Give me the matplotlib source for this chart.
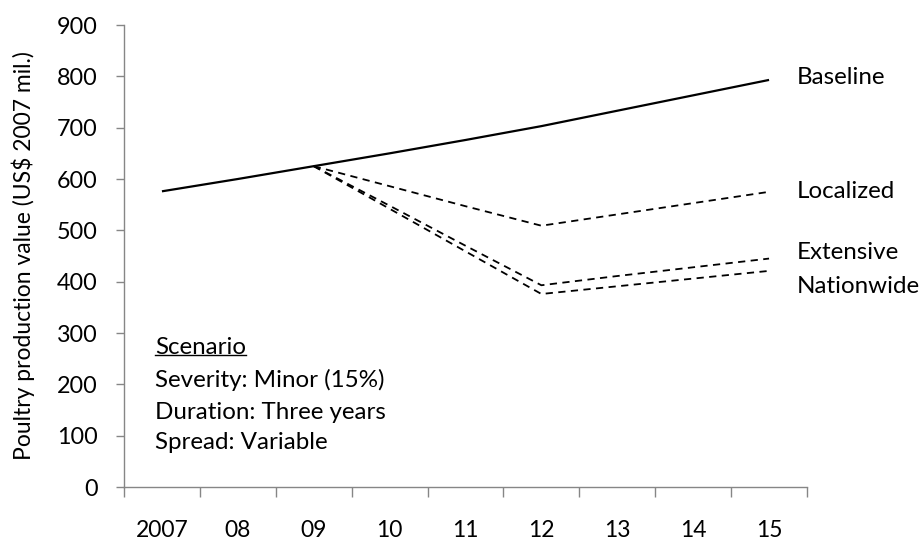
import matplotlib
matplotlib.use("Agg")
import matplotlib.pyplot as plt
from matplotlib.lines import Line2D

plt.rcParams['font.family'] = ['Lato', 'DejaVu Sans']

years = ["2007", "08", "09", "10", "11", "12", "13", "14", "15"]
baseline = [576, 600, 625, 650, 676, 703, 733, 763, 793]
localized = [None, None, 625, 586, 547, 509, 531, 553, 575]
extensive = [None, None, 625, 548, 470, 393, 411, 428, 445]
nationwide = [None, None, 625, 542, 459, 376, 391, 406, 421]
series_names = ["Baseline", "Localized", "Extensive", "Nationwide"]
label_y = [797, 575, 456, 390]
scenario_lines = ["Scenario", "Severity: Minor (15%)", "Duration: Three years", "Spread: Variable"]
scenario_y = [271, 208, 146, 86]

fig = plt.figure(figsize=(9.2, 5.44), dpi=100)
ax = fig.add_axes([124/920, 57/544, (807-124)/920, (487-25)/544])

# choose a font size so the scenario text has the reference width (~230 px)
probe = fig.text(0, 0, scenario_lines[1], fontsize=10)
fig.canvas.draw()
w = probe.get_window_extent(renderer=fig.canvas.get_renderer()).width
probe.remove()
FS = 10 * 230.0 / w

x = list(range(len(years)))
ax.plot(x, baseline, color='black', lw=1.6, solid_capstyle='butt')
for s in (localized, extensive, nationwide):
    xs = [i for i, v in zip(x, s) if v is not None]
    ys = [v for v in s if v is not None]
    ax.plot(xs, ys, color='black', lw=1.3, linestyle=(0, (4, 3)))

ax.set_xlim(-0.5, len(years) - 0.5)
ax.set_ylim(0, 900)
ax.set_yticks(range(0, 901, 100))
ax.set_xticks([i - 0.5 for i in range(len(years) + 1)])
ax.set_xticklabels([])
ax.set_xticks(x, minor=True)
ax.set_xticklabels(years, minor=True)
ax.tick_params(axis='x', which='major', direction='out', length=7, color='#868686', width=1)
ax.tick_params(axis='x', which='minor', length=0, pad=24, labelsize=FS * 0.95)
ax.tick_params(axis='y', direction='out', length=6, color='#868686', width=1, labelsize=FS * 0.97, pad=13)

for sp in ('top', 'right'):
    ax.spines[sp].set_visible(False)
for sp in ('left', 'bottom'):
    ax.spines[sp].set_color('#868686')
    ax.spines[sp].set_linewidth(1)

fig.text(23/920, (544 - 256)/544, "Poultry production value (US$ 2007 mil.)",
         rotation=90, ha='center', va='center', fontsize=FS * 0.95)

for name, yv in zip(series_names, label_y):
    ax.text(8.37, yv, name, fontsize=FS, va='center', ha='left', clip_on=False)

texts = []
for t, yv in zip(scenario_lines, scenario_y):
    texts.append(ax.text(-0.09, yv, t, fontsize=FS, va='center', ha='left'))

fig.canvas.draw()
r = fig.canvas.get_renderer()
bb = texts[0].get_window_extent(renderer=r)
inv = fig.transFigure.inverted()
(x0, y0), (x1, y1) = inv.transform([(bb.x0, bb.y0 + 3), (bb.x1, bb.y0 + 3)])
fig.add_artist(Line2D([x0, x1], [y0, y1], color='black', lw=1, transform=fig.transFigure))

fig.savefig("out.png", dpi=100)
